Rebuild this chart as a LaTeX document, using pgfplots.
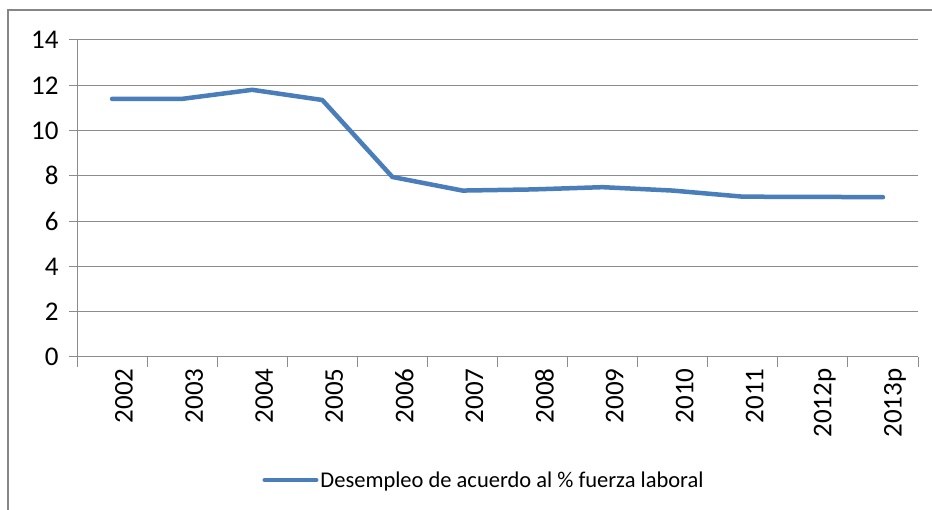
\documentclass[border=0pt]{standalone}
\usepackage{pgfplots}
\pgfplotsset{compat=1.18}
\usepackage{fontspec}
\setmainfont{Carlito}

\definecolor{serieblue}{RGB}{74,126,187}
\definecolor{gridgray}{RGB}{140,140,140}
\definecolor{framegray}{RGB}{134,134,134}

\begin{document}
\begin{tikzpicture}[x=1pt,y=1pt]
\useasboundingbox (0,0) rectangle (932,510);
% chart frame (only left and top visible)
\draw[framegray, line width=2pt] (8,0) -- (8,500) -- (932,500);

\begin{axis}[
    at={(77pt,153pt)}, anchor=south west,
    scale only axis,
    width=841pt, height=317pt,
    xmin=-0.5, xmax=11.5,
    ymin=0, ymax=14,
    ytick={0,2,...,14},
    xtick={0,...,11},
    xticklabels={2002,2003,2004,2005,2006,2007,2008,2009,2010,2011,2012p,2013p},
    minor xtick={-0.5,0.5,...,11.5},
    axis x line*=bottom, axis y line*=left,
    axis line style={gridgray, line width=1pt},
    tick align=outside,
    major x tick style={draw=none},
    minor tick length=10pt,
    major tick length=8pt,
    every tick/.style={gridgray, line width=1pt},
    ymajorgrids,
    grid style={gridgray, line width=1pt},
    /pgf/number format/assume math mode=true,
    ticklabel style={font=\fontsize{27}{30}\selectfont},
    xticklabel style={rotate=90, anchor=east, yshift=-12pt},
    yticklabel style={anchor=east, xshift=-7pt},
    legend style={at={(0.484,-0.388)}, anchor=center, draw=none,
        font=\fontsize{22.5}{26}\selectfont, inner sep=0pt},
    legend cell align=left,
    legend image code/.code={\draw[#1, line width=4pt] (0pt,0pt) -- (52pt,0pt);},
]
\addplot[serieblue, line width=4.5pt, line join=round, line cap=round] coordinates {
    (0, 11.4)
    (1, 11.4)
    (2, 11.8)
    (3, 11.35)
    (4, 7.95)
    (5, 7.35)
    (6, 7.4)
    (7, 7.5)
    (8, 7.35)
    (9, 7.08)
    (10, 7.07)
    (11, 7.06)
};
\addlegendentry{Desempleo de acuerdo al \% fuerza laboral}
\end{axis}
\end{tikzpicture}
\end{document}
